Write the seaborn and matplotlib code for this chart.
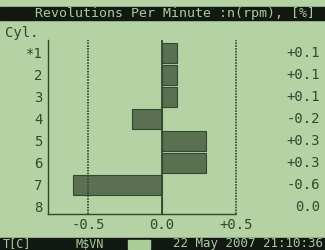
import matplotlib
import numpy as np
import pandas as pd
import seaborn as sns

matplotlib.use("Agg")
import matplotlib.pyplot as plt
import matplotlib.transforms as mtransforms

cylinders = ["*1", "2", "3", "4", "5", "6", "7", "8"]
rpm_dev = [0.1, 0.1, 0.1, -0.2, 0.3, 0.3, -0.6, 0.0]
tick_vals = [-0.5, 0.0, 0.5]
tick_labels = ["-0.5", "0.0", "+0.5"]

BG = "#b4d2a4"
INK = "#2f4a30"
BAR = "#5a7050"
TITLE_BG = "#121812"
TITLE_FG = "#a9cc98"

W, H = 325, 250


def fx(px):
    return px / W


def fy(py):
    return 1 - py / H


sns.set_theme(style="white")
plt.rcParams["font.family"] = ["DejaVu Sans Mono", "DejaVu Sans"]

fig = plt.figure(figsize=(3.25, 2.5), dpi=100, facecolor=BG)

# axes: x from 48 to 236 px, y from 40 to 214 px
ax = fig.add_axes([fx(48), fy(214), fx(236) - fx(48), (214 - 40) / H])
ax.set_facecolor(BG)

df = pd.DataFrame({"cyl": cylinders, "rpm": rpm_dev})
sns.barplot(data=df, x="rpm", y="cyl", orient="h", color=BAR, width=0.92,
            saturation=1, edgecolor=INK, linewidth=0.8, ax=ax)

ax.set_xlim(-0.77, 0.5)
ax.set_ylim(7.32, -0.59)
ax.axvline(0, color=INK, lw=1.3)
for v in tick_vals:
    if v != 0:
        ax.axvline(v, color=INK, lw=1.2, ls=(0, (1, 0.7)), clip_on=False)

for s in ["top", "right"]:
    ax.spines[s].set_visible(False)
ax.spines["left"].set_color(INK)
ax.spines["left"].set_linewidth(1.0)
ax.spines["bottom"].set_color(INK)
ax.spines["bottom"].set_linewidth(1.0)
ax.spines["bottom"].set_linestyle((0, (1, 1)))

ax.set_xticks(tick_vals)
ax.set_xticklabels(tick_labels, fontsize=10, color=INK)
ax.tick_params(axis="x", length=0, pad=3)
ax.tick_params(axis="y", length=0, pad=4, labelsize=10, labelcolor=INK)
ax.set_xlabel("")
ax.set_ylabel("")

# values on the right
trans = mtransforms.blended_transform_factory(fig.transFigure, ax.transData)
for i, v in enumerate(rpm_dev):
    txt = "0.0" if v == 0 else f"{v:+.1f}"
    ax.text(fx(320), i, txt, transform=trans, ha="right", va="center",
            fontsize=10, color=INK)

fig.text(fx(5), fy(33), "Cyl.", fontsize=10, color=INK, va="center", ha="left")

# title bar
fig.patches.append(plt.Rectangle((0, fy(20)), 1, (20 - 7) / H, transform=fig.transFigure,
                                 color=TITLE_BG, zorder=0))
fig.text(fx(175), fy(14), "Revolutions Per Minute :n(rpm), [%]", fontsize=9.5,
         color=TITLE_FG, ha="center", va="center")

# status bar
fig.patches.append(plt.Rectangle((0, 0), 1, (250 - 238) / H, transform=fig.transFigure,
                                 color=TITLE_BG, zorder=0))
fig.patches.append(plt.Rectangle((fx(128), fy(249)), fx(22), (249 - 240) / H,
                                 transform=fig.transFigure, color=TITLE_FG, zorder=1))
fig.text(fx(3), fy(244), "T[C]", fontsize=8.5, color=TITLE_FG, va="center", ha="left")
fig.text(fx(75), fy(244), "M$VN", fontsize=8.5, color=TITLE_FG, va="center", ha="left")
fig.text(fx(323), fy(244), "22 May 2007 21:10:36", fontsize=9, color=TITLE_FG,
         va="center", ha="right")

fig.savefig("out.png", dpi=100, facecolor=BG)
